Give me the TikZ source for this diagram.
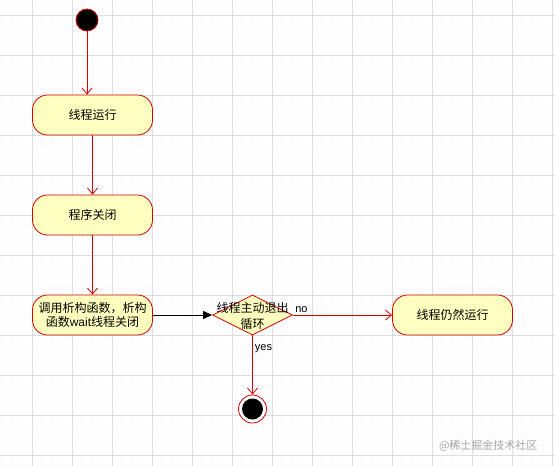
\documentclass[tikz,border=0pt]{standalone}
\usepackage{fontspec}
\setmainfont{Liberation Sans}
\newfontfamily\cjk{Noto Sans CJK SC}
\usetikzlibrary{shapes.geometric,arrows.meta}
\definecolor{umlred}{HTML}{D40000}
\definecolor{umlfill}{HTML}{FFFFC0}
\tikzset{
  statebox/.style={draw=umlred, fill=umlfill, rounded corners=15pt, minimum width=120pt, minimum height=40pt, inner sep=1pt, align=center, font=\fontsize{12}{15}\selectfont, line width=0.8pt},
  redarrow/.style={draw=umlred, line width=0.8pt, -{Straight Barb[length=6pt,width=10pt]}},
  blackarrow/.style={draw=black, line width=0.8pt, -{Triangle[length=9pt,width=8pt]}},
  lbl/.style={font=\fontsize{11}{13}\selectfont, inner sep=0pt}
}
\begin{document}
\begin{tikzpicture}[x=1pt,y=-1pt]
\useasboundingbox (0,0) rectangle (555,466);
\fill[white] (0,0) rectangle (555,466);
% minor grid
\foreach \x in {2,12,...,552} \draw[color=black!2.5, line width=0.3pt] (\x,0) -- (\x,466);
\foreach \y in {5,15,...,465} \draw[color=black!2.5, line width=0.3pt] (0,\y) -- (555,\y);
% major grid
\foreach \x in {32,72,...,552} \draw[color=black!13, line width=0.6pt] (\x,0) -- (\x,466);
\foreach \y in {15,55,...,455} \draw[color=black!13, line width=0.6pt] (0,\y) -- (555,\y);

\node[circle, draw=umlred, fill=black, minimum size=22pt, inner sep=0pt, line width=0.8pt] (start) at (87,20) {};
\node[statebox] (b1) at (92.5,115) {\cjk 线程运行};
\node[statebox] (b2) at (92.5,215) {\cjk 程序关闭};
\node[statebox] (b3) at (92.5,315) {{\cjk 调用析构函数，析构}\\[-1pt]{\cjk 函数}wait{\cjk 线程关闭}};
\node[diamond, draw=umlred, fill=umlfill, minimum width=80pt, minimum height=40pt, inner sep=0pt, line width=0.8pt] (d) at (252.5,315) {};
\node[align=center, font=\fontsize{12}{16}\selectfont, inner sep=0pt] (dt) at (252.5,316) {\cjk 线程主动退出\\\cjk 循环};
\node[statebox] (b4) at (452.5,315) {\cjk 线程仍然运行};
\node[circle, draw=umlred, fill=white, minimum size=28pt, inner sep=0pt, line width=0.8pt] (e) at (252.5,409) {};
\node[circle, fill=black, minimum size=21pt, inner sep=0pt] (ei) at (e) {};

\draw[redarrow] (start.south) -- (start |- b1.north);
\draw[redarrow] (b1) -- (b2);
\draw[redarrow] (b2) -- (b3);
\draw[blackarrow] (b3) -- (d.west);
\draw[redarrow] (d.east) -- (b4.west) node[lbl, pos=0, anchor=south west, xshift=2pt, yshift=2pt] {no};
\draw[redarrow] (d.south) -- (e.north) node[lbl, pos=0, anchor=north west, xshift=2pt, yshift=-9pt] {yes};

\node[font=\cjk\fontsize{11}{13}\selectfont, text=black!35, anchor=east] (wm) at (541,446) {@稀土掘金技术社区};
\end{tikzpicture}
\end{document}
